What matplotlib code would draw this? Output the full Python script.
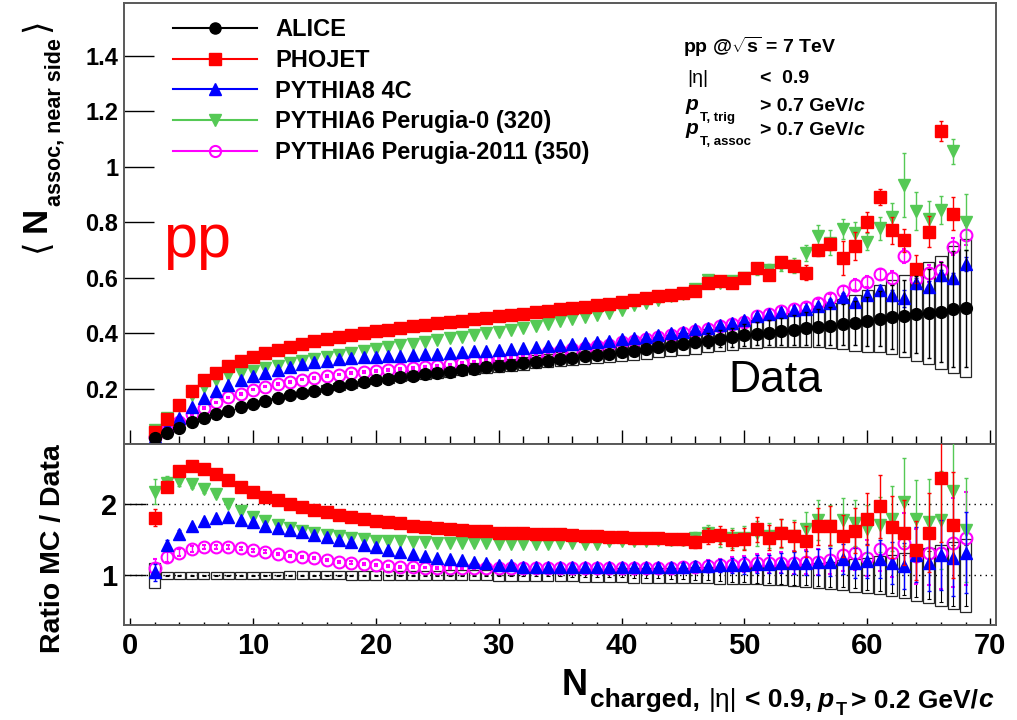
import numpy as np
import matplotlib
matplotlib.use('Agg')
import matplotlib.pyplot as plt
from matplotlib.lines import Line2D
from matplotlib.ticker import MultipleLocator, FormatStrFormatter
from matplotlib.transforms import IdentityTransform

plt.rcParams['font.family'] = ['Liberation Sans', 'DejaVu Sans']
plt.rcParams['font.weight'] = 'bold'
plt.rcParams['mathtext.fontset'] = 'custom'
plt.rcParams['mathtext.rm'] = 'Liberation Sans:bold'
plt.rcParams['mathtext.it'] = 'Liberation Sans:bold:italic'
plt.rcParams['mathtext.bf'] = 'Liberation Sans:bold'

# multiplicity bins
nch = np.arange(2, 69)

# ALICE <N_assoc> near side, with relative sys. (boxes) and stat. errors
alice = np.array([
    0.023, 0.041, 0.059, 0.078, 0.093, 0.107, 0.120, 0.132, 0.145,
    0.156, 0.166, 0.175, 0.184, 0.192, 0.200, 0.208, 0.215, 0.222, 0.229,
    0.235, 0.241, 0.246, 0.251, 0.256, 0.261, 0.266, 0.271, 0.276, 0.281,
    0.286, 0.291, 0.296, 0.301, 0.306, 0.311, 0.316, 0.321, 0.326, 0.332,
    0.337, 0.343, 0.349, 0.355, 0.361, 0.367, 0.373, 0.379, 0.385, 0.392,
    0.397, 0.402, 0.407, 0.412, 0.417, 0.422, 0.427, 0.432, 0.437, 0.443,
    0.452, 0.458, 0.462, 0.467, 0.472, 0.475, 0.486, 0.490])
alice_sys = np.array([
    0.18, 0.05, 0.05, 0.05, 0.05, 0.05, 0.05, 0.05, 0.05,
    0.052, 0.053, 0.054, 0.055, 0.056, 0.057, 0.058, 0.059, 0.060, 0.061,
    0.062, 0.063, 0.064, 0.065, 0.066, 0.068, 0.070, 0.071, 0.073, 0.075,
    0.076, 0.078, 0.080, 0.082, 0.084, 0.086, 0.089, 0.092, 0.095, 0.100,
    0.102, 0.104, 0.106, 0.108, 0.110, 0.112, 0.114, 0.116, 0.118, 0.120,
    0.125, 0.130, 0.140, 0.150, 0.160, 0.175, 0.190, 0.210, 0.230, 0.250,
    0.270, 0.290, 0.320, 0.360, 0.390, 0.430, 0.470, 0.510])
alice_stat = np.array([
    0.004, 0.004, 0.004, 0.004, 0.004, 0.004, 0.004, 0.004, 0.004,
    0.004, 0.004, 0.004, 0.004, 0.004, 0.005, 0.005, 0.005, 0.005, 0.005,
    0.005, 0.006, 0.006, 0.006, 0.007, 0.007, 0.008, 0.008, 0.009, 0.010,
    0.011, 0.012, 0.013, 0.014, 0.016, 0.018, 0.020, 0.022, 0.025, 0.028,
    0.032, 0.036, 0.040, 0.045, 0.050, 0.060, 0.070, 0.080, 0.090, 0.100,
    0.105, 0.110, 0.120, 0.130, 0.140, 0.150, 0.160, 0.170, 0.180, 0.200,
    0.220, 0.250, 0.280, 0.300, 0.340, 0.380, 0.430, 0.430])

# PHOJET (last bin empty)
phojet = np.array([
    0.045, 0.090, 0.140, 0.190, 0.229, 0.257, 0.280, 0.298, 0.314,
    0.328, 0.340, 0.351, 0.361, 0.370, 0.378, 0.386, 0.393, 0.400, 0.406,
    0.412, 0.418, 0.424, 0.430, 0.435, 0.440, 0.445, 0.450, 0.455, 0.460,
    0.465, 0.470, 0.475, 0.480, 0.485, 0.490, 0.495, 0.500, 0.505, 0.511,
    0.518, 0.525, 0.532, 0.538, 0.545, 0.551, 0.581, 0.588, 0.582, 0.597,
    0.636, 0.609, 0.657, 0.641, 0.618, 0.698, 0.720, 0.671, 0.714, 0.800,
    0.890, 0.770, 0.734, 0.630, 0.766, 1.128, 0.830])
phojet_err = np.array([
    0.003, 0.003, 0.003, 0.003, 0.003, 0.003, 0.003, 0.003, 0.003,
    0.003, 0.003, 0.003, 0.003, 0.003, 0.003, 0.003, 0.003, 0.003, 0.003,
    0.003, 0.003, 0.003, 0.003, 0.003, 0.003, 0.003, 0.004, 0.004, 0.004,
    0.004, 0.004, 0.004, 0.004, 0.004, 0.005, 0.005, 0.005, 0.005, 0.005,
    0.005, 0.005, 0.006, 0.006, 0.007, 0.008, 0.009, 0.010, 0.011, 0.012,
    0.014, 0.015, 0.016, 0.018, 0.027, 0.020, 0.022, 0.060, 0.050, 0.035,
    0.030, 0.050, 0.040, 0.050, 0.055, 0.036, 0.060])

# PYTHIA8 4C
p8 = np.array([
    0.025, 0.060, 0.095, 0.133, 0.165, 0.192, 0.214, 0.230, 0.245,
    0.257, 0.268, 0.278, 0.287, 0.294, 0.300, 0.305, 0.309, 0.312, 0.315,
    0.317, 0.319, 0.321, 0.323, 0.325, 0.328, 0.331, 0.334, 0.337, 0.340,
    0.343, 0.346, 0.349, 0.352, 0.356, 0.360, 0.364, 0.368, 0.372, 0.377,
    0.382, 0.387, 0.393, 0.399, 0.405, 0.413, 0.420, 0.428, 0.436, 0.447,
    0.460, 0.467, 0.475, 0.482, 0.488, 0.498, 0.508, 0.530, 0.512, 0.537,
    0.555, 0.537, 0.525, 0.579, 0.567, 0.609, 0.597, 0.650])
p8_err = np.array([
    0.003, 0.003, 0.003, 0.003, 0.003, 0.003, 0.003, 0.003, 0.003,
    0.003, 0.003, 0.003, 0.003, 0.003, 0.003, 0.003, 0.003, 0.003, 0.003,
    0.003, 0.003, 0.003, 0.003, 0.003, 0.003, 0.003, 0.003, 0.003, 0.003,
    0.003, 0.003, 0.003, 0.003, 0.003, 0.004, 0.004, 0.004, 0.004, 0.004,
    0.004, 0.005, 0.005, 0.005, 0.005, 0.006, 0.006, 0.006, 0.007, 0.007,
    0.008, 0.009, 0.010, 0.010, 0.011, 0.012, 0.013, 0.014, 0.015, 0.015,
    0.020, 0.020, 0.030, 0.020, 0.020, 0.020, 0.020, 0.025])

# PYTHIA6 Perugia-0 (320)
p320 = np.array([
    0.050, 0.094, 0.138, 0.178, 0.206, 0.229, 0.247, 0.256, 0.265,
    0.274, 0.283, 0.292, 0.300, 0.307, 0.314, 0.322, 0.327, 0.335, 0.341,
    0.348, 0.357, 0.362, 0.369, 0.374, 0.381, 0.387, 0.393, 0.400, 0.405,
    0.410, 0.418, 0.425, 0.432, 0.442, 0.450, 0.457, 0.465, 0.474, 0.483,
    0.500, 0.510, 0.520, 0.532, 0.540, 0.560, 0.590, 0.580, 0.589, 0.600,
    0.631, 0.627, 0.647, 0.643, 0.688, 0.751, 0.726, 0.775, 0.760, 0.730,
    0.777, 0.820, 0.935, 0.840, 0.810, 0.845, 1.055, 0.800])
p320_err = np.array([
    0.004, 0.004, 0.004, 0.004, 0.004, 0.004, 0.004, 0.004, 0.004,
    0.004, 0.004, 0.004, 0.004, 0.004, 0.004, 0.004, 0.004, 0.004, 0.004,
    0.004, 0.004, 0.004, 0.004, 0.004, 0.004, 0.004, 0.004, 0.004, 0.004,
    0.004, 0.004, 0.004, 0.004, 0.004, 0.004, 0.004, 0.004, 0.004, 0.004,
    0.004, 0.004, 0.004, 0.004, 0.004, 0.008, 0.010, 0.012, 0.014, 0.016,
    0.020, 0.022, 0.025, 0.028, 0.030, 0.040, 0.045, 0.035, 0.040, 0.030,
    0.040, 0.050, 0.115, 0.070, 0.065, 0.050, 0.045, 0.100])

# PYTHIA6 Perugia-2011 (350)
p350 = np.array([
    0.025, 0.052, 0.078, 0.107, 0.130, 0.150, 0.168, 0.181, 0.196,
    0.207, 0.216, 0.224, 0.232, 0.239, 0.245, 0.250, 0.255, 0.259, 0.263,
    0.267, 0.270, 0.275, 0.279, 0.283, 0.287, 0.292, 0.298, 0.303, 0.309,
    0.314, 0.319, 0.325, 0.330, 0.336, 0.341, 0.347, 0.352, 0.358, 0.366,
    0.372, 0.378, 0.385, 0.392, 0.400, 0.408, 0.416, 0.425, 0.433, 0.440,
    0.460, 0.470, 0.478, 0.486, 0.495, 0.508, 0.525, 0.550, 0.575, 0.585,
    0.612, 0.597, 0.679, 0.595, 0.615, 0.627, 0.712, 0.753])
p350_err = np.array([
    0.003, 0.003, 0.003, 0.003, 0.003, 0.003, 0.003, 0.003, 0.003,
    0.003, 0.003, 0.003, 0.003, 0.003, 0.003, 0.003, 0.003, 0.003, 0.003,
    0.003, 0.003, 0.003, 0.003, 0.003, 0.003, 0.003, 0.003, 0.003, 0.003,
    0.003, 0.003, 0.003, 0.003, 0.003, 0.003, 0.003, 0.003, 0.003, 0.003,
    0.003, 0.003, 0.003, 0.003, 0.003, 0.003, 0.003, 0.003, 0.003, 0.003,
    0.010, 0.010, 0.012, 0.012, 0.014, 0.015, 0.016, 0.018, 0.020, 0.020,
    0.020, 0.025, 0.025, 0.030, 0.030, 0.030, 0.030, 0.035])

# MC / data ratios
r_phojet = np.array([
    1.81, 2.25, 2.47, 2.54, 2.50, 2.43, 2.34, 2.25, 2.17,
    2.11, 2.06, 2.01, 1.96, 1.92, 1.89, 1.85, 1.82, 1.79, 1.77,
    1.745, 1.73, 1.70, 1.68, 1.665, 1.65, 1.64, 1.63, 1.62, 1.60,
    1.595, 1.595, 1.58, 1.58, 1.58, 1.57, 1.56, 1.56, 1.54, 1.54,
    1.53, 1.53, 1.53, 1.51, 1.51, 1.47, 1.56, 1.57, 1.50, 1.51,
    1.65, 1.53, 1.60, 1.55, 1.48, 1.69, 1.70, 1.55, 1.63, 1.79,
    1.97, 1.68, 1.60, 1.35, 1.60, 2.37, 1.71])
r_p8 = np.array([
    1.04, 1.43, 1.585, 1.69, 1.76, 1.81, 1.82, 1.78, 1.745,
    1.70, 1.67, 1.64, 1.61, 1.57, 1.54, 1.50, 1.47, 1.43, 1.40,
    1.36, 1.33, 1.30, 1.27, 1.25, 1.23, 1.21, 1.19, 1.17, 1.15,
    1.14, 1.12, 1.12, 1.12, 1.12, 1.12, 1.12, 1.12, 1.12, 1.12,
    1.12, 1.12, 1.12, 1.12, 1.12, 1.13, 1.13, 1.14, 1.14, 1.14,
    1.16, 1.16, 1.17, 1.17, 1.17, 1.19, 1.19, 1.23, 1.17, 1.20,
    1.23, 1.17, 1.13, 1.29, 1.18, 1.29, 1.24, 1.32])
r_p320 = np.array([
    2.18, 2.30, 2.33, 2.28, 2.21, 2.14, 2.00, 1.90, 1.82,
    1.76, 1.71, 1.67, 1.63, 1.60, 1.57, 1.55, 1.52, 1.51, 1.49,
    1.48, 1.48, 1.47, 1.47, 1.46, 1.46, 1.455, 1.45, 1.45, 1.44,
    1.44, 1.44, 1.44, 1.44, 1.45, 1.45, 1.44, 1.44, 1.48, 1.48,
    1.49, 1.49, 1.50, 1.50, 1.50, 1.52, 1.60, 1.53, 1.53, 1.53,
    1.59, 1.56, 1.59, 1.56, 1.65, 1.78, 1.70, 1.78, 1.74, 1.65,
    1.71, 1.80, 2.03, 1.79, 1.75, 1.78, 2.19, 1.64])
r_p350 = np.array([
    1.10, 1.26, 1.32, 1.37, 1.40, 1.405, 1.40, 1.38, 1.35,
    1.33, 1.30, 1.27, 1.255, 1.24, 1.22, 1.19, 1.18, 1.16, 1.146,
    1.13, 1.12, 1.12, 1.11, 1.10, 1.10, 1.10, 1.10, 1.10, 1.10,
    1.10, 1.10, 1.10, 1.10, 1.10, 1.10, 1.10, 1.10, 1.10, 1.10,
    1.11, 1.11, 1.11, 1.11, 1.12, 1.12, 1.13, 1.14, 1.15, 1.16,
    1.17, 1.17, 1.18, 1.18, 1.19, 1.19, 1.22, 1.29, 1.31, 1.24,
    1.37, 1.31, 1.46, 1.27, 1.31, 1.31, 1.46, 1.52])

labels = ['ALICE', 'PHOJET', 'PYTHIA8 4C', 'PYTHIA6 Perugia-0 (320)',
          'PYTHIA6 Perugia-2011 (350)']
colors = ['black', '#ff0000', '#0000ff', '#55c955', '#ff00ff']


def draw_pieces(fig, x, y, pieces, rotation=0, align='start'):
    """Lay out text pieces one after another along a baseline (pixels)."""
    rend = fig.canvas.get_renderer()
    a = np.deg2rad(rotation)
    along = np.array([np.cos(a), np.sin(a)])
    down = np.array([np.sin(a), -np.cos(a)])
    placed, pos = [], 0.0
    for p in pieces:
        t = fig.text(0, 0, p['s'], transform=IdentityTransform(),
                     ha='left', va='baseline', fontsize=p.get('size', 14),
                     fontweight=p.get('weight', 'bold'),
                     fontstyle=p.get('style', 'normal'),
                     color=p.get('color', 'black'))
        w = t.get_window_extent(rend).width
        placed.append((t, pos, p.get('drop', 0)))
        pos += w + p.get('gap', 0)
    start = -pos if align == 'end' else 0.0
    for t, off, drop in placed:
        xy = np.array([x, y]) + (start + off) * along + drop * down
        t.set_position(xy)
        t.set_rotation(rotation)
        t.set_rotation_mode('anchor')


fig = plt.figure(figsize=(10.17, 7.2), dpi=100)
H = 720
L, R = 124 / 1017, 995.7 / 1017
ax1 = fig.add_axes([L, 1 - 444 / H, R - L, (444 - 3) / H])
ax2 = fig.add_axes([L, 1 - 625 / H, R - L, (625 - 444) / H])

# --- top panel ---
ax1.bar(nch, 2 * alice * alice_sys, bottom=alice * (1 - alice_sys), width=0.9,
        fill=False, edgecolor='0.15', linewidth=0.9, zorder=1)

ebkw = dict(capsize=1.6, elinewidth=1.0, capthick=1.0)
ax1.errorbar(nch, p350, yerr=p350_err, fmt='o', ms=8.5, mfc='none', mec=colors[4],
             mew=1.5, color=colors[4], zorder=2, **ebkw)
ax1.errorbar(nch, p320, yerr=p320_err, fmt='v', ms=9, color=colors[3], zorder=3, **ebkw)
ax1.errorbar(nch, p8, yerr=p8_err, fmt='^', ms=9, color=colors[2], zorder=4, **ebkw)
ax1.errorbar(nch[:-1], phojet, yerr=phojet_err, fmt='s', ms=9, color=colors[1],
             zorder=5, **ebkw)
ax1.errorbar(nch, alice, yerr=alice * alice_stat, fmt='o', ms=8.5, color='black',
             zorder=6, **ebkw)

ax1.set_xlim(-0.5, 70.45)
ax1.set_ylim(0, 1.59)
ax1.xaxis.set_major_locator(MultipleLocator(10))
ax1.xaxis.set_minor_locator(MultipleLocator(2))
ax1.set_yticks([0.2, 0.4, 0.6, 0.8, 1.0, 1.2, 1.4])
ax1.yaxis.set_major_formatter(FormatStrFormatter('%g'))
ax1.tick_params(axis='x', which='both', direction='in', bottom=True, top=False,
                labelbottom=False, width=1)
ax1.tick_params(axis='x', which='major', length=10)
ax1.tick_params(axis='x', which='minor', length=6)
ax1.tick_params(axis='y', which='major', direction='in', length=21.6, width=1,
                left=True, right=False, labelsize=17, pad=4)

handles = [
    Line2D([], [], color=colors[0], marker='o', ms=8),
    Line2D([], [], color=colors[1], marker='s', ms=8),
    Line2D([], [], color=colors[2], marker='^', ms=8),
    Line2D([], [], color=colors[3], marker='v', ms=8),
    Line2D([], [], color=colors[4], marker='o', ms=8, mfc='none', mew=1.5),
]
ax1.legend(handles, labels, loc='upper left', bbox_to_anchor=(173 / 1017, 1 - 18 / H),
           bbox_transform=fig.transFigure, frameon=False,
           prop={'size': 17, 'weight': 'bold'}, handlelength=3.56,
           handletextpad=0.76, labelspacing=0.33, borderpad=0, borderaxespad=0)

# --- ratio panel ---
ones = np.ones_like(alice)
ax2.bar(nch, 2 * alice_sys, bottom=1 - alice_sys, width=0.9, fill=False,
        edgecolor='0.15', linewidth=0.9, zorder=1)
ax2.errorbar(nch, ones, yerr=alice_stat, fmt='none', ecolor='black', zorder=1.5,
             capsize=1.6, elinewidth=0.8, capthick=0.8)
ax2.axhline(1, color='black', ls=(0, (1, 3)), lw=1, zorder=0.5)
ax2.axhline(2, color='black', ls=(0, (1, 3)), lw=1, zorder=0.5)


def ratio_err(r, mc, mc_err, stat):
    return r * np.sqrt((mc_err / mc) ** 2 + stat ** 2)


ax2.errorbar(nch, r_p350, yerr=ratio_err(r_p350, p350, p350_err, alice_stat),
             fmt='o', ms=8.5, mfc='none', mec=colors[4], mew=1.5, color=colors[4],
             zorder=2, **ebkw)
ax2.errorbar(nch, r_p320, yerr=ratio_err(r_p320, p320, p320_err, alice_stat),
             fmt='v', ms=9, color=colors[3], zorder=3, **ebkw)
ax2.errorbar(nch, r_p8, yerr=ratio_err(r_p8, p8, p8_err, alice_stat),
             fmt='^', ms=9, color=colors[2], zorder=4, **ebkw)
ax2.errorbar(nch[:-1], r_phojet,
             yerr=ratio_err(r_phojet, phojet, phojet_err, alice_stat[:-1]),
             fmt='s', ms=9, color=colors[1], zorder=5, **ebkw)

ax2.set_xlim(-0.5, 70.45)
ax2.set_ylim(0.3, 2.85)
ax2.xaxis.set_major_locator(MultipleLocator(10))
ax2.xaxis.set_minor_locator(MultipleLocator(2))
ax2.set_yticks([1, 2])
ax2.tick_params(axis='x', which='both', direction='in', bottom=True, top=False,
                width=1, labelsize=21, pad=5)
ax2.tick_params(axis='x', which='major', length=5)
ax2.tick_params(axis='x', which='minor', length=2.5)
ax2.tick_params(axis='y', which='major', direction='in', length=16, width=1,
                left=True, right=False, labelsize=21, pad=5)

for ax in (ax1, ax2):
    for s in ax.spines.values():
        s.set_linewidth(1.4)
        s.set_color('0.35')

# --- axis titles ---
draw_pieces(fig, 46, H - 252, [
    {'s': '⟨', 'size': 25, 'weight': 'normal', 'gap': 6},
    {'s': 'N', 'size': 25, 'gap': 1},
    {'s': 'assoc, near side', 'size': 15.5, 'drop': 14, 'gap': 6},
    {'s': '⟩', 'size': 25, 'weight': 'normal'},
], rotation=90)

fig.text(53, H - 549, 'Ratio MC / Data', rotation=90, ha='center', va='center',
         fontsize=20.5, transform=IdentityTransform())

draw_pieces(fig, 993, H - 695, [
    {'s': 'N', 'size': 26, 'gap': 2},
    {'s': 'charged,', 'size': 19, 'drop': 12, 'gap': 9},
    {'s': '|η|', 'size': 19, 'weight': 'normal', 'drop': 12, 'gap': 8},
    {'s': '< 0.9,', 'size': 19, 'drop': 12, 'gap': 5},
    {'s': 'p', 'size': 19, 'style': 'italic', 'drop': 12, 'gap': 2},
    {'s': 'T', 'size': 13, 'drop': 20, 'gap': 5},
    {'s': '> 0.2 GeV/', 'size': 19, 'drop': 12},
    {'s': 'c', 'size': 19, 'style': 'italic', 'drop': 12},
], align='end')

# --- event selection ---
fig.text(683, H - 53, r'pp @$\sqrt{\mathrm{s}}$ = 7 TeV', fontsize=14,
         transform=IdentityTransform(), va='baseline')
fig.text(687, H - 83, '|η|', fontsize=14, fontweight='normal',
         transform=IdentityTransform(), va='baseline')
fig.text(760, H - 83, '<  0.9', fontsize=14, transform=IdentityTransform(),
         va='baseline')
for base, sub in ((110, 'T, trig'), (134, 'T, assoc')):
    draw_pieces(fig, 685, H - base, [
        {'s': 'p', 'size': 15, 'style': 'italic', 'gap': 2},
        {'s': sub, 'size': 9.5, 'drop': 11},
    ])
    draw_pieces(fig, 760, H - base - 1, [
        {'s': '> 0.7 GeV/', 'size': 14},
        {'s': 'c', 'size': 14, 'style': 'italic'},
    ])

fig.text(163, H - 257, 'pp', fontsize=44, fontweight='normal', color='#ff0000',
         transform=IdentityTransform())
fig.text(728, H - 392, 'Data', fontsize=32, fontweight='normal', color='black',
         transform=IdentityTransform())

fig.savefig('out.png', dpi=100)
